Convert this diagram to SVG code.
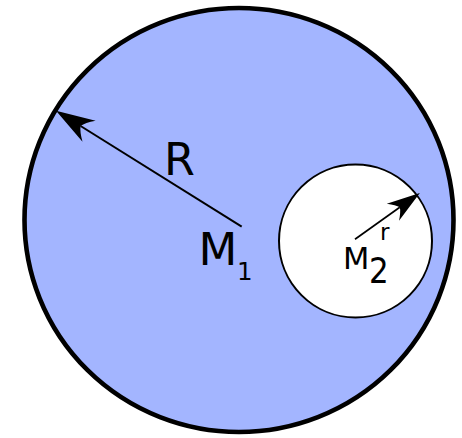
<svg xmlns="http://www.w3.org/2000/svg" width="462" height="438" viewBox="0 0 462 438">
  <style>
    .lbl { font-family: "DejaVu Sans", "Liberation Sans", sans-serif; fill: #000; }
    .conn { stroke: #000; fill: none; marker-end: url(#arrow); }
  </style>
  <defs>
    <marker id="arrow" viewBox="-21 -7 22 14" refX="-14.5" refY="0" markerWidth="22" markerHeight="14" markerUnits="strokeWidth" orient="auto" overflow="visible">
      <path d="M0,0 L-19.5,-6.2 Q-15.5,-2.5 -14.5,0 Q-15.5,2.5 -19.5,6.2 Z" fill="#000" stroke="none"/>
    </marker>
  </defs>
  <rect width="462" height="438" fill="#ffffff"/>
  <g id="big-sphere">
    <ellipse cx="239" cy="220" rx="214.5" ry="212" fill="#a3b5ff" stroke="#000" stroke-width="4.6"/>
  </g>
  <g id="small-sphere">
    <circle cx="355.5" cy="241" r="76.5" fill="#ffffff" stroke="#000" stroke-width="2"/>
  </g>
  <g id="connectors">
    <line class="conn" x1="241.7" y1="226.7" x2="80.6" y2="126" stroke-width="2"/>
    <line class="conn" x1="355" y1="239.3" x2="399.8" y2="207.3" stroke-width="1.7"/>
  </g>
  <g id="label-R">
    <text class="lbl" x="164" y="175" font-size="44.5">R</text>
  </g>
  <g id="label-M1">
    <text class="lbl" x="198.6" y="265" font-size="45">M</text>
    <text class="lbl" x="237" y="280" font-size="24.5">1</text>
  </g>
  <g id="label-M2">
    <text class="lbl" x="343" y="269" font-size="30.5">M</text>
    <text class="lbl" transform="translate(369,282.7) scale(1,1.17)" x="0" y="0" font-size="31">2</text>
  </g>
  <g id="label-r">
    <text class="lbl" x="380" y="240" font-size="23">r</text>
  </g>
</svg>
